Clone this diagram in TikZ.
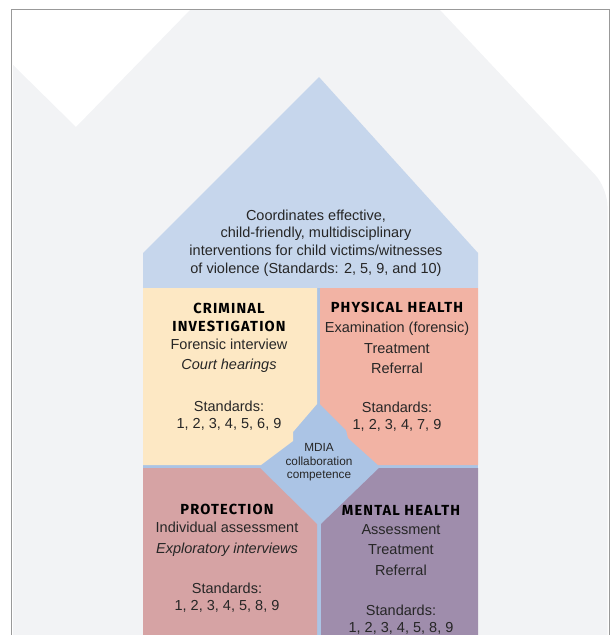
\documentclass[tikz,border=0pt]{standalone}
\usepackage{fontspec}
\setmainfont{Liberation Sans}
\newfontfamily\hdfont[LetterSpace=8]{Fira Sans}
\usepackage{tikz}
\usetikzlibrary{positioning,calc}
\definecolor{bg_g}{HTML}{F2F3F5}
\definecolor{roof_b}{HTML}{C6D6EC}
\definecolor{gap_b}{HTML}{ABC4E5}
\definecolor{q_beige}{HTML}{FDE8C4}
\definecolor{q_salmon}{HTML}{F2B3A4}
\definecolor{q_rose}{HTML}{D6A3A4}
\definecolor{q_purple}{HTML}{9F8DAC}
\tikzset{
  txt/.style = {align=center, inner sep=0pt, text=black!85,
    font=\fontsize{14.5}{17.7}\selectfont},% texte courant
  txt_l/.style = {txt, font=\fontsize{14.5}{20.5}\selectfont},% liste
  txt_s/.style = {txt, font=\fontsize{14.5}{17}\selectfont},% standards
  txt_h/.style = {align=center, inner sep=0pt, text=black,
    font=\hdfont\bfseries\fontsize{14.6}{18}\selectfont},% titre
  txt_m/.style = {txt, font=\fontsize{11.8}{13.5}\selectfont}% losange
}

\begin{document}
\begin{tikzpicture}[x=1pt,y=-1pt]
\useasboundingbox (0,0) rectangle (614,635);

% fond
\draw[black!40, line width=0.8pt] (11,635) |- (609,9) -- (609,635);
\fill[bg_g] (13,65) -- (76,127) -- (190,10) -- (440,10)
  [rounded corners=18pt] -- (607.5,188) [sharp corners] -- (607.5,635)
  -- (13,635) -- cycle;

% maison
\fill[roof_b] (143,288) -- (143,253) -- (319,77) -- (478,253) -- (478,288) -- cycle;
\fill[gap_b] (143,288) rectangle (478,635);
\fill[q_beige] (143,288) -- (317,288) -- (317,404) -- (293,432) -- (293,441)
  -- (261,465) -- (143,465) -- cycle;
\fill[q_salmon] (320,288) -- (478,288) -- (478,465) -- (378,465) -- (348,438)
  -- (346,430) -- (320,404) -- cycle;
\fill[q_rose] (143,468) -- (260,468) -- (317,524) -- (317,635) -- (143,635) -- cycle;
\fill[q_purple] (321,635) -- (321,524) -- (379,468) -- (478,468) -- (478,635) -- cycle;

% textes
\node[txt] (t0) at (316,243) {Coordinates effective,\\child-friendly, multidisciplinary\\
  interventions for child victims/witnesses\\of violence (Standards: 2, 5, 9, and 10)};

\node[txt_h] (t1h) at (229,317) {CRIMINAL\\INVESTIGATION};
\node[txt_l] (t1l) at (229,355.5) {Forensic interview\\\textit{Court hearings}};
\node[txt_s] (t1s) at (229,416) {Standards:\\1, 2, 3, 4, 5, 6, 9};

\node[txt_h] (t2h) at (397,307) {PHYSICAL HEALTH};
\node[txt_l] (t2l) at (397,348) {Examination (forensic)\\Treatment\\Referral};
\node[txt_s] (t2s) at (397,416.5) {Standards:\\1, 2, 3, 4, 7, 9};

\node[txt_m] (t3) at (319,462.5) {MDIA\\collaboration\\competence};

\node[txt_h] (t4h) at (227,509) {PROTECTION};
\node[txt_l] (t4l) at (227,539) {Individual assessment\\\textit{Exploratory interviews}};
\node[txt_s] (t4s) at (227,597.5) {Standards:\\1, 2, 3, 4, 5, 8, 9};

\node[txt_h] (t5h) at (401,510) {MENTAL HEALTH};
\node[txt_l] (t5l) at (401,550) {Assessment\\Treatment\\Referral};
\node[txt_s] (t5s) at (401,619.5) {Standards:\\1, 2, 3, 4, 5, 8, 9};
\end{tikzpicture}
\end{document}
